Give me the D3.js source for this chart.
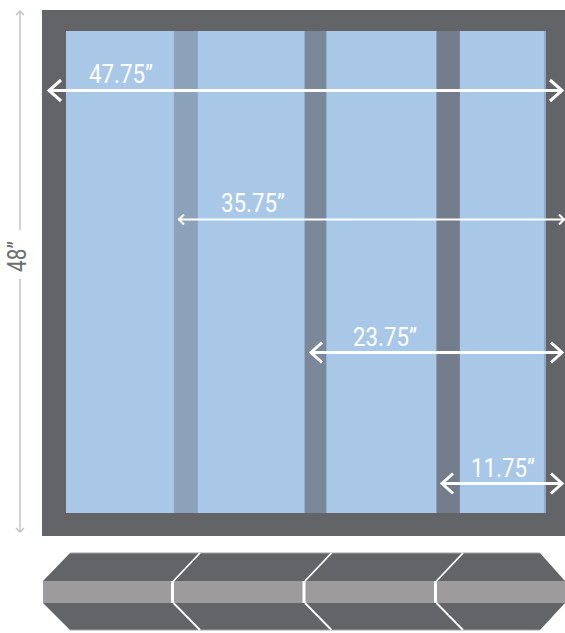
<!DOCTYPE html>
<html>
<head>
<meta charset="utf-8">
<style>
  html, body { margin: 0; padding: 0; background: #fff; }
  svg { display: block; }
  text { font-family: Roboto, "Open Sans", sans-serif; font-weight: 400; }
</style>
</head>
<body>
<svg width="565" height="633"></svg>
<script src="https://cdn.jsdelivr.net/npm/d3@7"></script>
<script>
// door dimensions, inches
var frameSize = 48;
var glassEdges = [45.8, 1.75];
var mullionEdges = [[35.9, 33.7], [23.9, 21.9], [11.8, 9.65]];
var mullionColors = ["#8ba2ba", "#7a8899", "#737d8c"];
var spanValues = [47.75, 35.75, 23.75, 11.75];
var spanLabels = ["47.75”", "35.75”", "23.75”", "11.75”"];
var heightLabel = "48”";

var svg = d3.select("svg");

var x = d3.scaleLinear().domain([frameSize, 0]).range([42, 565]);
var y = d3.scaleLinear().domain([frameSize, 0]).range([10, 536]);
// arrow tips don't sit exactly on the inch grid in the drawing
var arrowX = d3.scaleLinear().domain([0, 11.75, 23.75, 35.75, 47.75]).range([563, 441, 310, 178, 48]);

var line = d3.line();

// front view
svg.append("rect")
    .attr("x", x(frameSize)).attr("y", y(frameSize))
    .attr("width", x(0) - x(frameSize)).attr("height", y(0) - y(frameSize))
    .attr("fill", "#636467");

var glassTop = 31, glassBottom = 513;
svg.append("rect")
    .attr("x", x(glassEdges[0])).attr("y", glassTop)
    .attr("width", x(glassEdges[1]) - x(glassEdges[0])).attr("height", glassBottom - glassTop)
    .attr("fill", "#a9c8e8");
svg.append("rect")
    .attr("x", x(glassEdges[1]) - 2).attr("y", glassTop)
    .attr("width", 2).attr("height", glassBottom - glassTop)
    .attr("fill", "#8fa9c8");

svg.selectAll(".mullion").data(mullionEdges).enter().append("rect")
    .attr("class", "mullion")
    .attr("x", function(d) { return x(d[0]); })
    .attr("y", glassTop)
    .attr("width", function(d) { return x(d[1]) - x(d[0]); })
    .attr("height", glassBottom - glassTop)
    .attr("fill", function(d, i) { return mullionColors[i]; });

// span arrows
var rowY = [90.5, 219.5, 352.5, 483.5];
var labelX = [121, 253, 385, 503];
var labelY = [83, 212, 346, 477];
var headLen = [13, 6, 12, 12];
var headHalf = [10.5, 5, 10, 10];
var weight = [3, 2, 3, 3];

spanValues.forEach(function(v, i) {
  var x0 = arrowX(v), x1 = i == 1 ? 565 : arrowX(0), yy = rowY[i], l = headLen[i], h = headHalf[i];
  var g = svg.append("g")
      .attr("fill", "none").attr("stroke", "#fff").attr("stroke-width", weight[i]);
  g.append("path").attr("d", line([[x0, yy], [x1, yy]]));
  g.append("path").attr("d", line([[x0 + l, yy - h], [x0 + 1, yy], [x0 + l, yy + h]]));
  g.append("path").attr("d", line([[x1 - l, yy - h], [x1 - 1, yy], [x1 - l, yy + h]]));
  svg.append("text")
      .attr("x", labelX[i]).attr("y", labelY[i])
      .attr("text-anchor", "middle")
      .attr("font-size", 25)
      .attr("fill", "#fff")
      .attr("textLength", 64).attr("lengthAdjust", "spacingAndGlyphs")
      .text(spanLabels[i]);
});

// height dimension
var dimX = 20;
var dim = svg.append("g").attr("fill", "none").attr("stroke", "#c2c2c4").attr("stroke-width", 1.5);
dim.append("path").attr("d", line([[dimX, y(frameSize) + 1], [dimX, 230]]));
dim.append("path").attr("d", line([[dimX, 279], [dimX, y(0) - 4]]));
dim.append("path").attr("d", line([[dimX - 4, y(frameSize) + 5], [dimX, y(frameSize) + 1], [dimX + 4, y(frameSize) + 5]]));
dim.append("path").attr("d", line([[dimX - 4, y(0) - 8], [dimX, y(0) - 4], [dimX + 4, y(0) - 8]]));

svg.append("text")
    .attr("transform", "translate(26,256.5) rotate(-90)")
    .attr("text-anchor", "middle")
    .attr("font-size", 26)
    .attr("fill", "#6d6e71")
    .attr("textLength", 31).attr("lengthAdjust", "spacingAndGlyphs")
    .text(heightLabel);

// plan view below the door
var planTop = 553, bandTop = 581, bandBottom = 603, planBottom = 630;
var planLeft = 43, planRight = 565;

svg.append("path")
    .attr("d", line([[planLeft, bandTop], [70, planTop], [540, planTop], [planRight, bandTop],
                     [planRight, bandBottom], [540, planBottom], [70, planBottom], [planLeft, bandBottom]]) + "Z")
    .attr("fill", "#636467");
svg.append("path").attr("d", line([[70, planTop], [540, planTop]])).attr("stroke", "#a3a3a5").attr("stroke-width", 1);
svg.append("path").attr("d", line([[70, planBottom], [540, planBottom]])).attr("stroke", "#a3a3a5").attr("stroke-width", 1);
svg.append("rect")
    .attr("x", planLeft).attr("y", bandTop)
    .attr("width", planRight - planLeft).attr("height", bandBottom - bandTop)
    .attr("fill", "#9d9b9c");

var joints = [172.5, 304, 435.5];
joints.forEach(function(j) {
  var g = svg.append("g").attr("stroke", "#fff").attr("fill", "none");
  g.append("path").attr("d", line([[j, bandTop], [j, bandBottom]])).attr("stroke-width", 3);
  g.append("path").attr("d", line([[j + 1, bandTop], [j + 27.5, planTop]])).attr("stroke-width", 1.8);
  g.append("path").attr("d", line([[j + 1, bandBottom], [j + 27.5, planBottom]])).attr("stroke-width", 1.8);
});
</script>
</body>
</html>
